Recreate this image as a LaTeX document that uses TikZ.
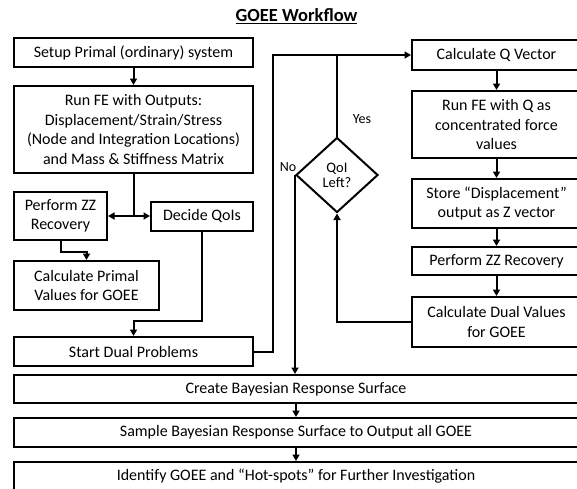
\documentclass[tikz,border=0pt]{standalone}
\usepackage{fontspec}
\setmainfont{Carlito}
\usetikzlibrary{arrows.meta, shapes.geometric}

\begin{document}
\begin{tikzpicture}[x=1pt, y=-1pt,
			>={Triangle[length=6.5pt,width=7pt]},
			line width=2pt,
			box/.style={draw, rectangle, align=center, inner sep=1pt,
				font=\fontsize{16}{19.5}\selectfont},
			dec/.style={draw, diamond, align=center, inner sep=0pt,
				font=\fontsize{14.5}{15}\selectfont},
			lbl/.style={font=\fontsize{14}{16}\selectfont}]

			\useasboundingbox (0,0) rectangle (577,488);
			\clip (0,0) rectangle (577,488);

			\node[font=\fontsize{18.5}{22}\selectfont\bfseries] (title) at (296.5,16) {\underline{GOEE Workflow}};

			% primal side
			\node[box, minimum width=239, minimum height=29] (setup) at (133.5,52.5) {Setup Primal (ordinary) system};
			\node[box, minimum width=239, minimum height=87] (runfe) at (133.5,129.5) {Run FE with Outputs:\\Displacement/Strain/Stress\\(Node and Integration Locations)\\and Mass \& Stiffness Matrix};
			\node[box, minimum width=93, minimum height=48] (zz) at (60.5,216) {Perform ZZ\\Recovery};
			\node[box, minimum width=102, minimum height=29] (qois) at (202,216) {Decide QoIs};
			\node[box, minimum width=145, minimum height=49] (primal) at (86.5,285.5) {Calculate Primal\\Values for GOEE};
			\node[box, minimum width=239, minimum height=29] (startdual) at (133.5,351.5) {Start Dual Problems};

			% dual loop
			\node[box, minimum width=169, minimum height=30] (calcq) at (496.5,55) {Calculate Q Vector};
			\node[box, minimum width=169, minimum height=67] (runq) at (496.5,124.5) {Run FE with Q as\\concentrated force\\values};
			\node[box, minimum width=169, minimum height=49] (store) at (496.5,203.5) {Store “Displacement”\\output as Z vector};
			\node[box, minimum width=169, minimum height=28] (zzdual) at (496.5,261) {Perform ZZ Recovery};
			\node[box, minimum width=169, minimum height=50] (caldual) at (496.5,322) {Calculate Dual Values\\for GOEE};
			\node[dec, minimum width=82, minimum height=75] (qleft) at (337,175) {QoI\\Left?};

			% response surface
			\node[box, minimum width=564, minimum height=28] (create) at (296,389) {Create Bayesian Response Surface};
			\node[box, minimum width=564, minimum height=29] (sample) at (296,432.5) {Sample Bayesian Response Surface to Output all GOEE};
			\node[box, minimum width=564, minimum height=29] (ident) at (296,476.5) {Identify GOEE and “Hot-spots” for Further Investigation};

			\coordinate (j1) at (runfe.south |- zz.east);
			\draw[->] (setup) -- (runfe);
			\draw (runfe.south) -- (j1);
			\draw[->] (j1) -- (zz.east);
			\draw[->] (j1) -- (qois.west);
			\draw[->] (zz.south) -- ++(0,11) -| (primal.north);
			\draw[->] (qois.south) -- ++(0,89) -| (startdual.north);
			\draw[->] (startdual.east) -- ++(19,0) |- (calcq.west);

			\draw[->] (calcq) -- (runq);
			\draw[->] (runq) -- (store);
			\draw[->] (store) -- (zzdual);
			\draw[->] (zzdual) -- (caldual);
			\draw[->] (caldual.west) -| (qleft.south);
			\draw (qleft.north) -- (qleft.north |- calcq.west);
			\draw[->] (qleft.west) -- (qleft.west |- create.north);
			\node[lbl] (yes) at (362,119) {Yes};
			\node[lbl] (no) at (288,167) {No};

			\draw[->] (create) -- (sample);
			\draw[->] (sample) -- (ident);
		\end{tikzpicture}
\end{document}
